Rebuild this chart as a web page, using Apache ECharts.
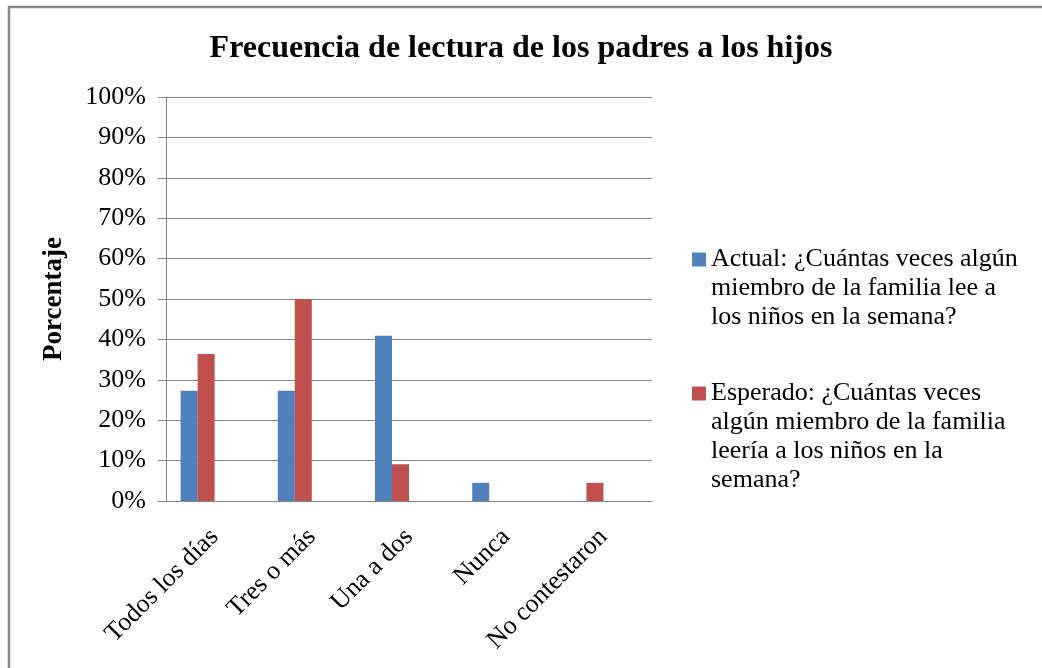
<!DOCTYPE html>
<html>
<head>
<meta charset="utf-8">
<script src="https://cdn.jsdelivr.net/npm/echarts@6/dist/echarts.min.js"></script>
<style>
html,body{margin:0;padding:0;background:#fff;}
#chart_main{width:1042px;height:668px;}
</style>
</head>
<body>
<div id="chart_main"></div>
<script type="text/javascript">
var categories = ['Todos los días', 'Tres o más', 'Una a dos', 'Nunca', 'No contestaron'];
var actual = [27.3, 27.3, 40.9, 4.5, 0];
var esperado = [36.4, 50, 9.1, 0, 4.5];
var yTicks = [0, 10, 20, 30, 40, 50, 60, 70, 80, 90, 100];

var nameActual = 'Actual: ¿Cuántas veces algún miembro de la familia lee a los niños en la semana?';
var nameEsperado = 'Esperado: ¿Cuántas veces algún miembro de la familia leería a los niños en la semana?';
// legend line breaks as in the picture
var legendLines = {};
legendLines[nameActual] = ['Actual: ¿Cuántas veces algún', 'miembro de la familia lee a', 'los niños en la semana?'];
legendLines[nameEsperado] = ['Esperado: ¿Cuántas veces', 'algún miembro de la familia', 'leería a los niños en la', 'semana?'];

var serif = '"Liberation Serif", "Times New Roman", serif';

function legendText(name){
	var l = legendLines[name];
	// blank lines above keep the square on the first line
	var pad = new Array(l.length).join('\n');
	return pad + l.join('\n');
}

var myChart = echarts.init(document.getElementById('chart_main'));
var option = {
	animation: false,
	backgroundColor: '#fff',
	title: {
		text: 'Frecuencia de lectura de los padres a los hijos',
		left: 'center',
		top: 28,
		textStyle: {fontFamily: serif, fontWeight: 'bold', fontSize: 32, color: '#000'}
	},
	graphic: [{
		type: 'rect',
		shape: {x: 9, y: 7, width: 1100, height: 700},
		style: {fill: 'none', stroke: '#888', lineWidth: 2.5},
		silent: true
	}],
	legend: [{
		data: [nameActual],
		orient: 'vertical',
		left: 692,
		top: 187,
		padding: 0,
		icon: 'rect',
		itemWidth: 14,
		itemHeight: 14,
		formatter: legendText,
		textStyle: {fontFamily: serif, fontSize: 26, color: '#000', lineHeight: 29}
	}, {
		data: [nameEsperado],
		orient: 'vertical',
		left: 692,
		top: 292,
		padding: 0,
		icon: 'rect',
		itemWidth: 14,
		itemHeight: 14,
		formatter: legendText,
		textStyle: {fontFamily: serif, fontSize: 26, color: '#000', lineHeight: 29}
	}],
	grid: [
		{left: 166, right: 390, top: 97, bottom: 167},
		{left: 149, right: 407, top: 97, bottom: 167}
	],
	xAxis: [{
		type: 'category',
		gridIndex: 0,
		data: categories,
		axisLine: {lineStyle: {color: '#868686', width: 1}},
		axisTick: {show: false},
		axisLabel: {rotate: 45, margin: 32, fontFamily: serif, fontSize: 26, color: '#000', interval: 0}
	}, {
		type: 'category',
		gridIndex: 1,
		data: categories,
		show: false
	}],
	yAxis: [{
		type: 'value',
		gridIndex: 0,
		min: 0,
		max: 100,
		interval: 10,
		name: 'Porcentaje',
		nameLocation: 'middle',
		nameRotate: 90,
		nameGap: 98,
		nameTextStyle: {fontFamily: serif, fontWeight: 'bold', fontSize: 27, color: '#000'},
		axisLine: {show: true, lineStyle: {color: '#868686', width: 1}},
		axisTick: {show: true, length: 8, lineStyle: {color: '#868686'}},
		axisLabel: {margin: 20, fontFamily: serif, fontSize: 26, color: '#000', formatter: '{value}%'},
		splitLine: {lineStyle: {color: '#868686', width: 1}}
	}, {
		type: 'value',
		gridIndex: 1,
		min: 0,
		max: 100,
		interval: 10,
		show: false,
		splitLine: {show: false}
	}],
	series: [{
		name: nameActual,
		type: 'bar',
		xAxisIndex: 1,
		yAxisIndex: 1,
		data: actual,
		barWidth: 17,
		barGap: '0%',
		itemStyle: {color: '#4F81BD'}
	}, {
		name: nameEsperado,
		type: 'bar',
		xAxisIndex: 1,
		yAxisIndex: 1,
		data: esperado,
		barWidth: 17,
		barGap: '0%',
		itemStyle: {color: '#C0504D'}
	}]
};
myChart.setOption(option);
</script>
</body>
</html>
